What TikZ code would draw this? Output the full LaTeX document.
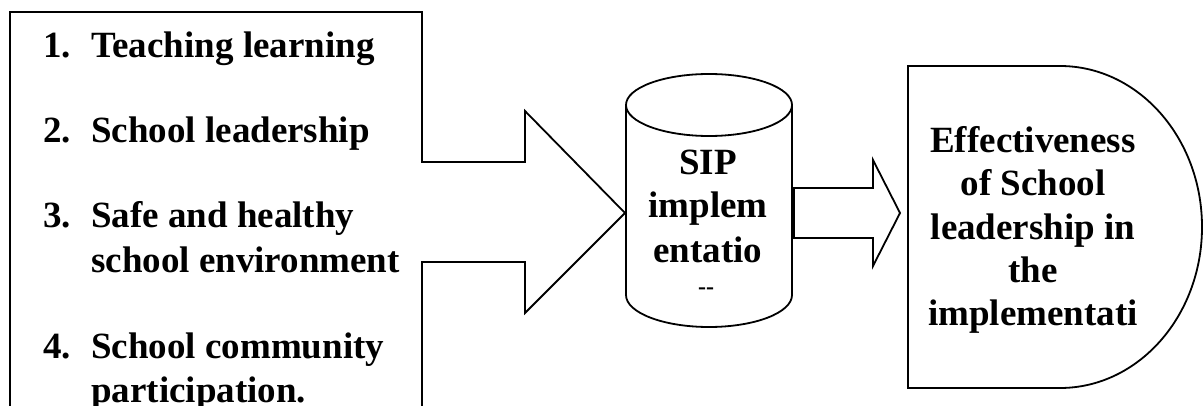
\documentclass[tikz,border=0pt]{standalone}
\usepackage{fontspec}
\setmainfont{Liberation Serif}
\tikzset{
  outline/.style={draw=black, line width=1.8pt, line join=miter},
  itemtxt/.style={anchor=base west, inner sep=0pt, font=\fontsize{37}{44}\selectfont\bfseries},
  ctrtxt/.style={anchor=base, inner sep=0pt, font=\fontsize{37}{44}\selectfont\bfseries},
}
\begin{document}
\begin{tikzpicture}[x=1pt,y=-1pt]
  \useasboundingbox (0,0) rectangle (1204,406);
  \clip (0,0) rectangle (1204,406);

  % list box whose right side turns into a large arrow
  \draw[outline] (10,420) -- (10,12) -- (422,12) -- (422,162) -- (525,162)
    -- (525,111) -- (625,213) -- (525,313) -- (525,262) -- (422,262) -- (422,420);

  % cylinder
  \draw[outline] (709,105) ellipse [x radius=83, y radius=31];
  \draw[outline] (626,105) -- (626,295)
    arc [start angle=180, end angle=0, x radius=83, y radius=32] -- (792,105);

  % block arrow towards the result
  \draw[outline] (794,188) -- (873,188) -- (873,160) -- (900,213)
    -- (873,266) -- (873,238) -- (794,238) -- cycle;

  % delay-shaped result box
  \draw[outline] (908,66) -- (1060,66)
    arc [start angle=-90, end angle=90, x radius=142, y radius=161]
    -- (908,388) -- cycle;

  % list items
  \node[itemtxt] (n1) at (43,58) {1.};
  \node[itemtxt] (t1) at (91,58) {Teaching learning};
  \node[itemtxt] (n2) at (43,143) {2.};
  \node[itemtxt] (t2) at (91,143) {School leadership};
  \node[itemtxt] (n3) at (43,227) {3.};
  \node[itemtxt] (t3a) at (91,227) {Safe and healthy};
  \node[itemtxt] (t3b) at (91,272) {school environment};
  \node[itemtxt] (n4) at (43,358) {4.};
  \node[itemtxt] (t4a) at (91,358) {School community};
  \node[itemtxt] (t4b) at (91,402) {participation.};

  % cylinder label
  \node[ctrtxt] (c1) at (708,175) {SIP};
  \node[ctrtxt] (c2) at (708,218) {implem};
  \node[ctrtxt] (c3) at (708,262) {entatio};
  \node[anchor=base, inner sep=0pt, font=\fontsize{24}{28}\selectfont\bfseries] (c4) at (706,294) {-{}-};

  % result label
  \node[ctrtxt] (r1) at (1033,153) {Effectiveness};
  \node[ctrtxt] (r2) at (1033,196) {of School};
  \node[ctrtxt] (r3) at (1033,239) {leadership in};
  \node[ctrtxt] (r4) at (1033,282) {the};
  \node[ctrtxt] (r5) at (1033,325) {implementati};
\end{tikzpicture}
\end{document}
